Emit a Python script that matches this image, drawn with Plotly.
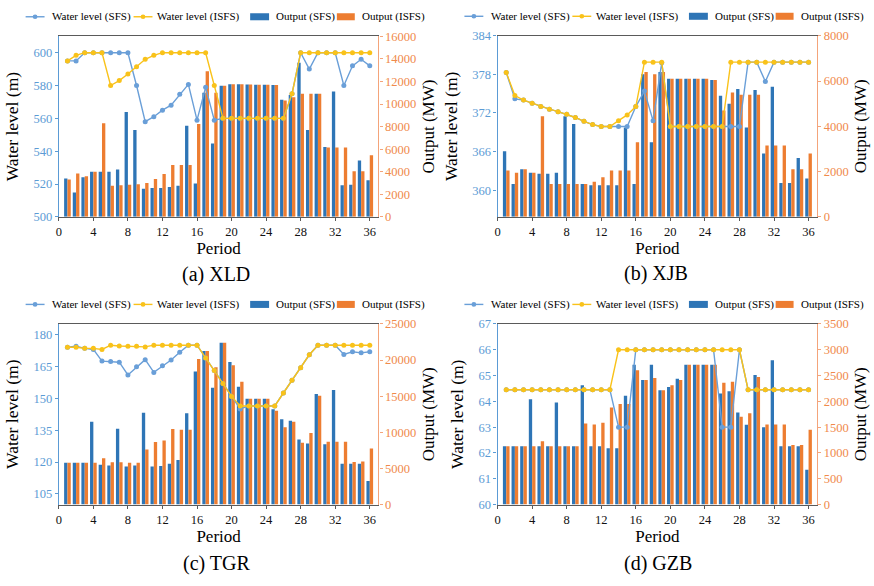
import plotly.graph_objects as go

periods = list(range(1, 37))

# ---------------- XLD ----------------
xld_wl_sfs = [595, 595, 600, 600, 600, 600, 600, 600, 580, 558, 561, 565, 568, 574.7, 580.7, 558.9, 578.9, 558.9,
              560, 560, 560, 560, 560, 560, 560, 560, 575, 600, 590, 600, 600, 600, 580, 592, 596, 592]
xld_wl_isfs = [595, 598.4, 600, 600, 600, 580, 583, 587, 591.5, 596, 598.4, 600, 600, 600, 600, 600, 600, 580,
               560, 560, 560, 560, 560, 560, 560, 560, 575, 600, 600, 600, 600, 600, 600, 600, 600, 600]
xld_out_sfs = [3400, 2150, 3500, 4000, 4000, 4000, 4200, 9300, 7700, 2500, 2550, 2550, 2650, 2750, 8070, 2950,
               11000, 6490, 11620, 11750, 11750, 11720, 11700, 11700, 11680, 10380, 10800, 13650, 7700, 10900,
               6200, 11100, 2800, 2850, 5000, 3250]
xld_out_isfs = [3300, 3850, 3600, 4000, 8300, 2750, 2800, 2850, 2900, 3000, 3350, 3800, 4600, 4600, 4600, 8220,
                12900, 11000, 11620, 11750, 11750, 11720, 11700, 11700, 11680, 10300, 10600, 10900, 10900, 10900,
                6150, 6150, 6150, 4050, 4050, 5450]

# ---------------- XJB ----------------
xjb_wl_sfs = [378.3, 374.2, 374.0, 373.5, 373.0, 372.6, 372.2, 371.8, 371.3, 370.7, 370.2, 369.9, 369.9, 369.9,
              369.9, 373.0, 375.4, 370.8, 379.8, 369.9, 369.9, 369.9, 369.9, 369.9, 369.9, 369.9, 369.9, 369.9,
              379.9, 379.9, 376.9, 379.9, 379.9, 379.9, 379.9, 379.9]
xjb_wl_isfs = [378.3, 374.7, 374.0, 373.5, 373.0, 372.6, 372.2, 371.8, 371.3, 370.7, 370.2, 369.9, 369.9, 370.8,
               371.7, 373.0, 379.9, 379.9, 379.9, 369.9, 369.9, 369.9, 369.9, 369.9, 369.9, 369.9, 379.9, 379.9,
               379.9, 379.9, 379.9, 379.9, 379.9, 379.9, 379.9, 379.9]
xjb_out_sfs = [2900, 1450, 2100, 1950, 1900, 1900, 1950, 4450, 4100, 1450, 1400, 1400, 1400, 1400, 3950, 1450,
               6300, 3300, 6400, 6100, 6100, 6100, 6100, 6100, 6050, 5350, 5000, 5650, 3950, 5600, 2800, 5750,
               1500, 1500, 2600, 1700]
xjb_out_isfs = [2050, 1950, 2100, 1950, 4450, 1450, 1450, 1450, 1450, 1450, 1550, 1750, 2050, 2050, 2050, 3300,
                6400, 6300, 6400, 6100, 6100, 6100, 6100, 6100, 6050, 4700, 5500, 5400, 5400, 5400, 3150, 3150,
                3150, 2100, 2100, 2800]

# ---------------- TGR ----------------
tgr_wl_sfs = [174, 174.5, 173.5, 173, 167.5, 167.3, 167, 161, 164.8, 168.2, 162.2, 165.3, 168, 171.7, 175, 175,
              169, 163.1, 157, 150.9, 145.0, 146.4, 146.4, 146.4, 146.4, 152.5, 158.5, 164.4, 170.5, 175, 175,
              175, 170.6, 171.9, 171.4, 171.9]
tgr_wl_isfs = [174, 174, 173.5, 173.5, 173, 175, 174.6, 174.5, 174.5, 174.2, 175, 175, 175, 175, 175, 175, 169,
               163.1, 157, 150.9, 146.4, 146.4, 146.4, 146.4, 146.4, 152.5, 158.5, 164.4, 170.5, 175, 175, 175,
               175, 175, 175, 175]
tgr_out_sfs = [5770, 5770, 5770, 11450, 5500, 5400, 10500, 5250, 5400, 12700, 5250, 5350, 5650, 6150, 12650,
               18430, 21270, 16180, 22400, 19730, 16310, 14650, 14650, 14650, 13200, 11800, 11600, 9000, 8450,
               15300, 8350, 15850, 5650, 5650, 5650, 3250]
tgr_out_isfs = [5770, 5770, 5770, 5770, 6400, 5850, 5850, 5800, 5800, 7600, 8650, 8850, 10450, 10350, 10350,
                20150, 21270, 19010, 22400, 19280, 16990, 14650, 14650, 14650, 12970, 10700, 11450, 8550, 9900,
                15050, 8700, 8700, 8700, 5900, 5950, 7750]

# ---------------- GZB ----------------
gzb_wl_sfs = [64.45, 64.45, 64.45, 64.45, 64.45, 64.45, 64.45, 64.45, 64.45, 64.45, 64.45, 64.45, 64.45, 63.0,
              63.0, 66, 66, 66, 66, 66, 66, 66, 66, 66, 66, 63.0, 63.0, 66, 64.45, 64.45, 64.45, 64.45, 64.45,
              64.45, 64.45, 64.45]
gzb_wl_isfs = [64.45, 64.45, 64.45, 64.45, 64.45, 64.45, 64.45, 64.45, 64.45, 64.45, 64.45, 64.45, 64.45, 66,
               66, 66, 66, 66, 66, 66, 66, 66, 66, 66, 66, 66, 66, 66, 64.45, 64.45, 64.45, 64.45, 64.45, 64.45,
               64.45, 64.45]
gzb_out_sfs = [1130, 1130, 1130, 2040, 1130, 1130, 1975, 1130, 1130, 2310, 1130, 1130, 1090, 1090, 2110, 2710,
               2415, 2710, 2215, 2280, 2440, 2710, 2710, 2710, 2710, 2150, 2195, 1785, 1545, 2510, 1500, 2795,
               1130, 1130, 1130, 675]
gzb_out_isfs = [1130, 1130, 1130, 1130, 1225, 1130, 1130, 1130, 1130, 1570, 1550, 1585, 1880, 1950, 1950, 2600,
                2415, 2450, 2215, 2310, 2415, 2710, 2710, 2710, 2710, 2360, 2380, 1700, 1770, 2470, 1550, 1550,
                1550, 1155, 1155, 1450]

x_ticks = [0, 4, 8, 12, 16, 20, 24, 28, 32, 36]
captions = ["(a) XLD", "(b) XJB", "(c) TGR", "(d) GZB"]
legend_names = ["Water level (SFS)", "Water level (ISFS)", "Output (SFS)", "Output (ISFS)"]

W, H = 874, 586
FONT = "Liberation Serif"
C_BAR_SFS = "#2E75B6"
C_BAR_ISFS = "#ED7D31"
C_LINE_SFS = "#6A9FD8"
C_LINE_ISFS = "#F9C21A"
C_LEFT = "#5B9BD5"
C_RIGHT = "#F08A4B"
C_RIGHT_LINE = "#F4A47A"
C_FRAME = "#5A5A5A"


def fx(p):
    return p / W


def fy(p):
    return 1 - p / H


panels = [
    dict(wl_sfs=xld_wl_sfs, wl_isfs=xld_wl_isfs, out_sfs=xld_out_sfs, out_isfs=xld_out_isfs,
         lrange=[500, 610], lticks=[500, 520, 540, 560, 580, 600], rrange=[0, 16000], rdtick=2000,
         box=(56, 376.7, 30, 215), cap=(214, 274)),
    dict(wl_sfs=xjb_wl_sfs, wl_isfs=xjb_wl_isfs, out_sfs=xjb_out_sfs, out_isfs=xjb_out_isfs,
         lrange=[355.85, 384], lticks=[360, 366, 372, 378, 384], rrange=[0, 8000], rdtick=2000,
         box=(496.3, 817, 29.5, 215), cap=(655, 273)),
    dict(wl_sfs=tgr_wl_sfs, wl_isfs=tgr_wl_isfs, out_sfs=tgr_out_sfs, out_isfs=tgr_out_isfs,
         lrange=[100, 185], lticks=[105, 120, 135, 150, 165, 180], rrange=[0, 25000], rdtick=5000,
         box=(56, 376.7, 324.7, 509.7), cap=(214, 570)),
    dict(wl_sfs=gzb_wl_sfs, wl_isfs=gzb_wl_isfs, out_sfs=gzb_out_sfs, out_isfs=gzb_out_isfs,
         lrange=[60, 67], lticks=[60, 61, 62, 63, 64, 65, 66, 67], rrange=[0, 3500], rdtick=500,
         box=(496.3, 817, 324.7, 509.7), cap=(657, 570)),
]

fig = go.Figure()
layout = dict(
    width=W, height=H, margin=dict(l=0, r=0, t=0, b=0),
    paper_bgcolor="white", plot_bgcolor="rgba(0,0,0,0)",
    showlegend=False, barmode="group", bargap=0.23, bargroupgap=0,
    font=dict(family=FONT, size=12, color="#000"),
)
shapes = []
annotations = []

for i, pnl in enumerate(panels):
    xid = "x" if i == 0 else f"x{i + 1}"
    xkey = "xaxis" if i == 0 else f"xaxis{i + 1}"
    yb = 2 * i + 1
    yl = 2 * i + 2
    ybid = "y" if yb == 1 else f"y{yb}"
    ylid = f"y{yl}"
    ybkey = "yaxis" if yb == 1 else f"yaxis{yb}"
    ylkey = f"yaxis{yl}"
    x0, x1, top, bot = pnl["box"]

    fig.add_trace(go.Bar(x=periods, y=pnl["out_sfs"], name=legend_names[2], marker_color=C_BAR_SFS,
                         marker_line_width=0, xaxis=xid, yaxis=ybid))
    fig.add_trace(go.Bar(x=periods, y=pnl["out_isfs"], name=legend_names[3], marker_color=C_BAR_ISFS,
                         marker_line_width=0, xaxis=xid, yaxis=ybid))
    fig.add_trace(go.Scatter(x=periods, y=pnl["wl_sfs"], name=legend_names[0], mode="lines+markers",
                             line=dict(color=C_LINE_SFS, width=1.4), marker=dict(size=5, color=C_LINE_SFS),
                             xaxis=xid, yaxis=ylid))
    fig.add_trace(go.Scatter(x=periods, y=pnl["wl_isfs"], name=legend_names[1], mode="lines+markers",
                             line=dict(color=C_LINE_ISFS, width=1.4), marker=dict(size=5, color=C_LINE_ISFS),
                             xaxis=xid, yaxis=ylid))

    layout[xkey] = dict(
        domain=[fx(x0), fx(x1)], anchor=ybid, range=[0, 37], tickvals=x_ticks,
        showline=True, linecolor=C_FRAME, linewidth=1.3, mirror=True,
        ticks="outside", ticklen=3, tickcolor=C_FRAME, showgrid=False, zeroline=False,
        tickfont=dict(family=FONT, size=12.5, color="#111"),
        title=dict(text="Period", font=dict(family=FONT, size=17), standoff=4),
    )
    layout[ybkey] = dict(
        domain=[fy(bot), fy(top)], anchor=xid, side="right", range=pnl["rrange"], dtick=pnl["rdtick"],
        tick0=0, tickformat="d", showline=True, linecolor=C_RIGHT_LINE, linewidth=1.3, ticks="outside",
        ticklen=3, tickcolor=C_RIGHT_LINE, showgrid=False, zeroline=False,
        tickfont=dict(family=FONT, size=12.5, color=C_RIGHT),
        title=dict(text="Output (MW)", font=dict(family=FONT, size=17), standoff=6),
    )
    layout[ylkey] = dict(
        overlaying=ybid, anchor=xid, side="left", range=pnl["lrange"], tickvals=pnl["lticks"],
        showline=True, linecolor=C_LEFT, linewidth=1.3, ticks="outside", ticklen=3, tickcolor=C_LEFT,
        showgrid=False, zeroline=False, tickfont=dict(family=FONT, size=12.5, color=C_LEFT),
        title=dict(text="Water level (m)", font=dict(family=FONT, size=17.5), standoff=10),
    )

    # caption
    cx, cy = pnl["cap"]
    annotations.append(dict(text=captions[i], x=fx(cx), y=fy(cy), xref="paper", yref="paper",
                            xanchor="center", yanchor="middle", showarrow=False,
                            font=dict(size=20, family=FONT, color="#000")))

    # custom legend above each panel
    ly = top - 20
    items = [
        ("line", C_LINE_SFS, -33.3, -14.3, -9, legend_names[0]),
        ("line", C_LINE_ISFS, 75, 94, 97, legend_names[1]),
        ("rect", C_BAR_SFS, 192, 211, 216, legend_names[2]),
        ("rect", C_BAR_ISFS, 279, 297, 302, legend_names[3]),
    ]
    for kind, col, a, b, t, label in items:
        if kind == "line":
            shapes.append(dict(type="line", xref="paper", yref="paper", x0=fx(x0 + a), x1=fx(x0 + b),
                               y0=fy(ly), y1=fy(ly), line=dict(color=col, width=1.4)))
            mx = x0 + (a + b) / 2
            shapes.append(dict(type="circle", xref="paper", yref="paper", x0=fx(mx - 2.4), x1=fx(mx + 2.4),
                               y0=fy(ly + 2.4), y1=fy(ly - 2.4), fillcolor=col, line=dict(width=0)))
        else:
            shapes.append(dict(type="rect", xref="paper", yref="paper", x0=fx(x0 + a), x1=fx(x0 + b),
                               y0=fy(ly + 3.6), y1=fy(ly - 3.6), fillcolor=col, line=dict(width=0)))
        annotations.append(dict(text=label, x=fx(x0 + t), y=fy(ly), xref="paper", yref="paper",
                                xanchor="left", yanchor="middle", showarrow=False,
                                font=dict(size=11, family=FONT, color="#000")))

layout["shapes"] = shapes
layout["annotations"] = annotations
fig.update_layout(**layout)
fig.write_html("out.html")
